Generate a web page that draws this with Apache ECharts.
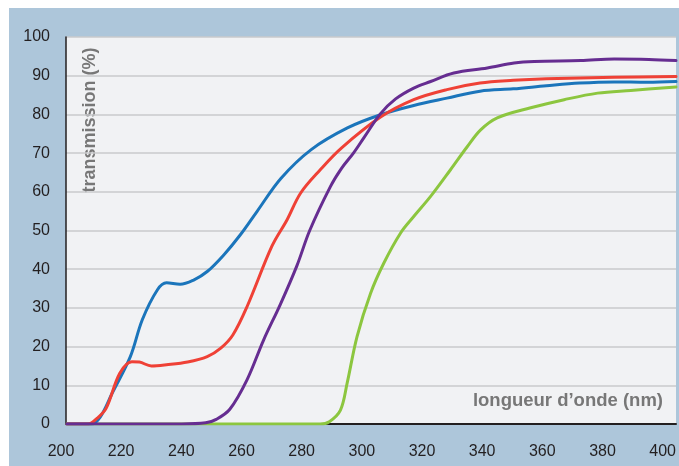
<!DOCTYPE html>
<html>
<head>
<meta charset="utf-8">
<script src="https://cdn.jsdelivr.net/npm/echarts@6/dist/echarts.min.js"></script>
<style>
html,body{margin:0;padding:0;background:#ffffff;}
#wrap{position:relative;width:679px;height:466px;background:#ffffff;overflow:hidden;}
#chart{position:absolute;left:9px;top:8px;width:670px;height:458px;}
</style>
</head>
<body>
<div id="wrap"><div id="chart"></div></div>
<script>
// wavelength (nm) ticks and y ticks
var xTicks = [200, 220, 240, 260, 280, 300, 320, 340, 360, 380, 400];
var yTicks = [0, 10, 20, 30, 40, 50, 60, 70, 80, 90, 100];

var blueX = [202, 210, 213, 217, 223, 227, 232, 235, 239.5, 244, 248.5, 254, 259.5, 265, 273, 283, 295, 306, 317, 328, 339, 350, 361, 372, 383.5, 394.5, 404];
var blueY = [0, 0, 1.8, 8, 17.4, 27, 34.7, 36.5, 36.1, 37.2, 39.4, 43.7, 48.9, 54.9, 63.5, 70.9, 76.5, 79.9, 82.3, 84.2, 86, 86.6, 87.4, 88.1, 88.4, 88.3, 88.5];

var redX = [202, 209, 212, 215, 219.5, 223.5, 226, 230, 235, 242, 248.5, 253, 257, 261.7, 270, 275, 279.5, 286, 293, 306, 317, 328, 339, 350, 361, 383.5, 404];
var redY = [0, 0, 1.5, 4.1, 13.1, 16.1, 16.0, 15.0, 15.3, 16.0, 17.4, 19.6, 23.0, 30.3, 46.0, 52.8, 59.7, 65.7, 71.3, 79.3, 83.8, 86.4, 88.1, 88.8, 89.2, 89.6, 89.8];

var purpleX = [202, 240, 248, 251.5, 256, 261.7, 267.2, 272.8, 278.3, 282.5, 289.4, 293, 297, 300.5, 306, 311, 317, 322.6, 330.3, 341.4, 350.3, 357, 372.4, 383.5, 395, 404];
var purpleY = [0, 0, 0.3, 1.2, 3.8, 11.4, 21.7, 31.0, 41.0, 50.0, 61.4, 66, 70, 74, 80.2, 84, 86.8, 88.5, 90.7, 92.0, 93.3, 93.7, 93.9, 94.3, 94.2, 93.9];

var greenX = [202, 286, 289, 292.7, 294.9, 298.2, 302.7, 307.1, 312.6, 317, 322.6, 329.2, 334.8, 339.2, 344.7, 355.8, 366.9, 378, 389, 404];
var greenY = [0, 0, 0.6, 3.6, 10.5, 22.6, 33.8, 41.6, 49.3, 53.6, 58.8, 65.7, 71.7, 76.0, 79.1, 81.7, 83.8, 85.5, 86.2, 87.1];

function pairs(xs, ys) { return xs.map(function (x, i) { return [x, ys[i]]; }); }

var chart = echarts.init(document.getElementById('chart'), null, {renderer: 'canvas'});
var textFont = 'Liberation Sans, Arial, sans-serif';

function lineSeries(xs, ys, color) {
  return {
    type: 'line', xAxisIndex: 0, yAxisIndex: 0,
    data: pairs(xs, ys), showSymbol: false, smooth: 0.35,
    lineStyle: {color: color, width: 3, cap: 'round', join: 'round'},
    animation: false
  };
}

chart.setOption({
  backgroundColor: '#adc6da',
  animation: false,
  grid: [
    {left: 57, right: 3, top: 29, bottom: 42, show: true, backgroundColor: '#f1f2f4', borderWidth: 0},
    {left: 52, right: 15, top: 29, bottom: 42, show: false}
  ],
  xAxis: [
    {type: 'value', gridIndex: 0, min: 201.66, max: 404,
     axisLine: {show: true, lineStyle: {color: '#231f20', width: 2}},
     axisTick: {show: false}, axisLabel: {show: false}, splitLine: {show: false}},
    {type: 'value', gridIndex: 1, min: xTicks[0], max: xTicks[xTicks.length - 1], interval: 20,
     axisLine: {show: false}, axisTick: {show: false}, splitLine: {show: false},
     axisLabel: {show: true, margin: 20, color: '#231f20', fontSize: 16, fontFamily: textFont}}
  ],
  yAxis: [
    {type: 'value', gridIndex: 0, min: yTicks[0], max: yTicks[yTicks.length - 1], interval: 10,
     axisLine: {show: true, lineStyle: {color: '#231f20', width: 1.5}},
     axisTick: {show: false},
     axisLabel: {margin: 16, color: '#231f20', fontSize: 16, fontFamily: textFont},
     splitLine: {show: true, lineStyle: {color: '#c9cacc', width: 1.5}}},
    {type: 'value', gridIndex: 1, min: 0, max: 100, show: false}
  ],
  graphic: [
    {type: 'text', x: 81.5, y: 112, rotation: Math.PI / 2,
     style: {text: 'transmission (%)', fill: '#777777', font: 'bold 18px Liberation Sans, Arial, sans-serif', textAlign: 'center', textVerticalAlign: 'middle'}},
    {type: 'text', x: 654, y: 393,
     style: {text: 'longueur d\u2019onde (nm)', fill: '#777777', font: 'bold 18.5px Liberation Sans, Arial, sans-serif', textAlign: 'right', textVerticalAlign: 'middle'}}
  ],
  series: [
    lineSeries(greenX, greenY, '#8cc63f'),
    lineSeries(blueX, blueY, '#1b75bb'),
    lineSeries(redX, redY, '#ef4136'),
    lineSeries(purpleX, purpleY, '#662d91')
  ]
});
</script>
</body>
</html>
